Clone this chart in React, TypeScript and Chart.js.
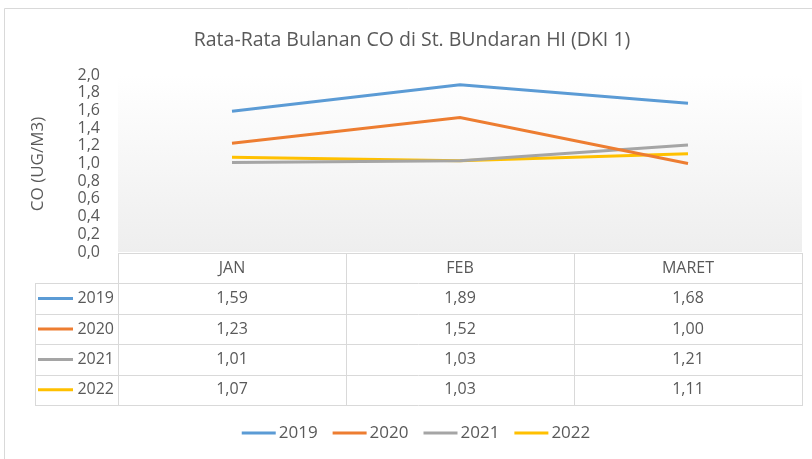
import React, { useEffect, useRef } from "react";
import { Chart, registerables } from "chart.js";

Chart.register(...registerables);

const categories = ["JAN", "FEB", "MARET"];
const seriesNames = ["2019", "2020", "2021", "2022"];
const values2019 = [1.59, 1.89, 1.68];
const values2020 = [1.23, 1.52, 1.0];
const values2021 = [1.01, 1.03, 1.21];
const values2022 = [1.07, 1.03, 1.11];
const seriesColors = ["#5B9BD5", "#ED7D31", "#A5A5A5", "#FFC000"];
const chartTitle = "Rata-Rata Bulanan CO di St. BUndaran HI (DKI 1)";
const yAxisTitle = "CO (UG/M3)";
const yMin = 0;
const yMax = 2.0;
const yStep = 0.2;

const allValues = [values2019, values2020, values2021, values2022];

const FONT = '"Open Sans", "Noto Sans", sans-serif';
const TEXT = "#595959";
const GRID = "#d9d9d9";

const fmt = (v: number, d: number) => v.toFixed(d).replace(".", ",");

const decorPlugin = {
  id: "decor",
  beforeDatasetsDraw(chart: any) {
    const { ctx, chartArea } = chart;
    ctx.save();
    const g = ctx.createLinearGradient(0, chartArea.top, 0, chartArea.bottom);
    g.addColorStop(0, "rgba(255,255,255,1)");
    g.addColorStop(1, "rgba(238,238,238,1)");
    ctx.fillStyle = g;
    ctx.fillRect(chartArea.left, chartArea.top - 2, chartArea.right - chartArea.left, chartArea.bottom - chartArea.top + 2);
    ctx.restore();
  },
  afterDraw(chart: any) {
    const { ctx, chartArea } = chart;
    const xs = chart.scales.x;
    ctx.save();

    // outer border
    ctx.strokeStyle = GRID;
    ctx.lineWidth = 1;
    ctx.beginPath();
    ctx.moveTo(4.5, chart.height);
    ctx.lineTo(4.5, 8.5);
    ctx.lineTo(chart.width, 8.5);
    ctx.stroke();

    // title
    ctx.fillStyle = TEXT;
    ctx.font = `19.5px ${FONT}`;
    ctx.textAlign = "center";
    ctx.textBaseline = "middle";
    ctx.fillText(chartTitle, 412, 40);

    // y axis title
    ctx.save();
    ctx.translate(38, 164);
    ctx.rotate(-Math.PI / 2);
    ctx.font = `17px ${FONT}`;
    ctx.fillText(yAxisTitle, 0, 0);
    ctx.restore();

    // data table
    const step = xs.getPixelForValue(1) - xs.getPixelForValue(0);
    const top = chartArea.bottom + 1;
    const rowH = 30.4;
    const labelLeft = 35;
    const left = chartArea.left;
    const right = chartArea.right;
    const nRows = seriesNames.length;
    const bottom = top + rowH * (nRows + 1);

    ctx.fillStyle = "#ffffff";
    ctx.fillRect(left, top, right - left, rowH);
    ctx.fillRect(labelLeft, top + rowH, right - labelLeft, rowH * nRows);

    ctx.strokeStyle = GRID;
    ctx.lineWidth = 1;
    ctx.beginPath();
    ctx.moveTo(left, Math.round(top) + 0.5);
    ctx.lineTo(right, Math.round(top) + 0.5);
    for (let r = 1; r <= nRows + 1; r++) {
      const y = Math.round(top + r * rowH) + 0.5;
      ctx.moveTo(labelLeft, y);
      ctx.lineTo(right, y);
    }
    ctx.moveTo(labelLeft + 0.5, Math.round(top + rowH));
    ctx.lineTo(labelLeft + 0.5, Math.round(bottom) + 1);
    for (let c = 0; c <= categories.length; c++) {
      const x = Math.round(xs.getPixelForValue(0) - step / 2 + c * step) + 0.5;
      ctx.moveTo(x, Math.round(top));
      ctx.lineTo(x, Math.round(bottom) + 1);
    }
    ctx.stroke();

    ctx.fillStyle = TEXT;
    ctx.font = `16px ${FONT}`;
    ctx.textAlign = "center";
    ctx.textBaseline = "middle";
    categories.forEach((c, i) => {
      ctx.fillText(c, xs.getPixelForValue(i), top + rowH / 2);
    });
    chart.data.datasets.forEach((ds: any, r: number) => {
      const cy = top + rowH * (r + 1) + rowH / 2;
      ds.data.forEach((v: number, i: number) => {
        ctx.fillStyle = TEXT;
        ctx.textAlign = "center";
        ctx.fillText(fmt(v, 2), xs.getPixelForValue(i), cy);
      });
      ctx.textAlign = "right";
      ctx.fillText(ds.label, left - 4, cy);
      ctx.strokeStyle = ds.borderColor;
      ctx.lineWidth = 3;
      ctx.beginPath();
      ctx.moveTo(38, cy);
      ctx.lineTo(73, cy);
      ctx.stroke();
    });

    // legend
    ctx.font = `17px ${FONT}`;
    const lineLen = 34;
    const gapLine = 3;
    const gapItem = 15;
    const widths = chart.data.datasets.map((ds: any) => lineLen + gapLine + ctx.measureText(ds.label).width);
    const total = widths.reduce((a: number, b: number) => a + b, 0) + gapItem * (widths.length - 1);
    let x = 416 - total / 2;
    const ly = 433;
    chart.data.datasets.forEach((ds: any, i: number) => {
      ctx.strokeStyle = ds.borderColor;
      ctx.lineWidth = 3;
      ctx.beginPath();
      ctx.moveTo(x, ly);
      ctx.lineTo(x + lineLen, ly);
      ctx.stroke();
      ctx.fillStyle = TEXT;
      ctx.textAlign = "left";
      ctx.fillText(ds.label, x + lineLen + gapLine, ly);
      x += widths[i] + gapItem;
    });

    ctx.restore();
  },
};

export default function App() {
  const ref = useRef<HTMLCanvasElement | null>(null);
  useEffect(() => {
    if (!ref.current) return;
    const chart = new Chart(ref.current, {
      type: "line",
      data: {
        labels: categories,
        datasets: seriesNames.map((name, i) => ({
          label: name,
          data: allValues[i],
          borderColor: seriesColors[i],
          backgroundColor: seriesColors[i],
          borderWidth: 3,
          pointRadius: 0,
          tension: 0,
          fill: false,
        })),
      },
      options: {
        responsive: false,
        animation: false,
        layout: { padding: { left: 0, right: 10, top: 75, bottom: 207 } },
        plugins: {
          legend: { display: false },
          title: { display: false },
          tooltip: { enabled: false },
        },
        scales: {
          x: {
            type: "category",
            offset: true,
            display: false,
            grid: { display: false },
          },
          y: {
            min: yMin,
            max: yMax,
            afterFit: (s: any) => {
              s.width = 118;
            },
            grid: { display: false, drawTicks: false },
            border: { display: false },
            ticks: {
              stepSize: yStep,
              autoSkip: false,
              padding: 18,
              color: TEXT,
              font: { family: FONT, size: 16, lineHeight: 1 },
              callback: (v: any) => fmt(Number(v), 1),
            },
          },
        },
      },
      plugins: [decorPlugin],
    });
    return () => chart.destroy();
  }, []);
  return (
    <div style={{ position: "absolute", left: 0, top: 0, width: 812, height: 459, background: "#fff" }}>
      <canvas ref={ref} width={812} height={459} style={{ width: 812, height: 459 }} />
    </div>
  );
}
